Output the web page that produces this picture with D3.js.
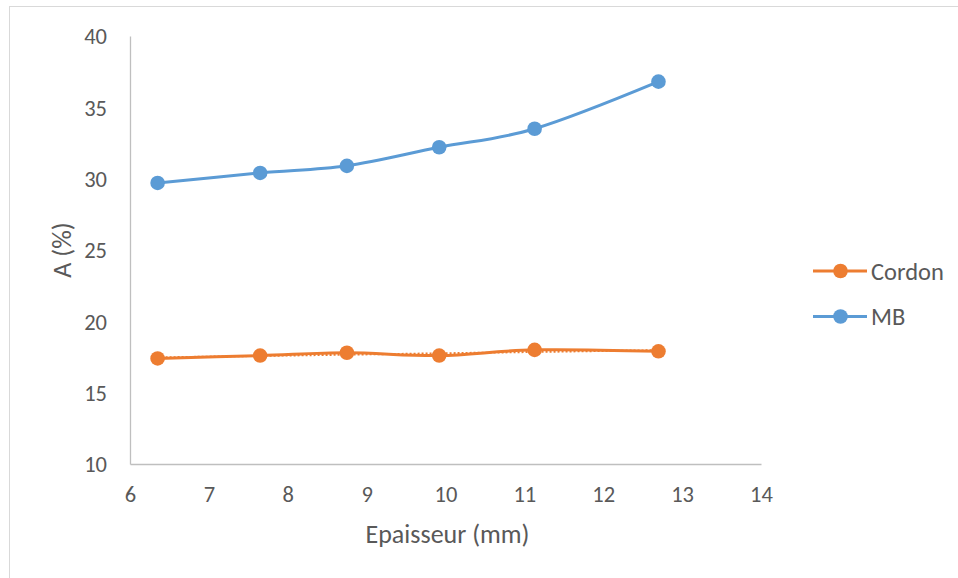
<!DOCTYPE html>
<html>
<head>
<meta charset="utf-8">
<script src="https://cdn.jsdelivr.net/npm/d3@7"></script>
<style>
  body { margin: 0; background: #fff; }
  text { font-family: Carlito, Calibri, "Noto Sans", sans-serif; fill: #595959; }
</style>
</head>
<body>
<svg id="chart"></svg>
<script>
const width = 958;
const height = 578;

// epaisseur des plaques (mm)
const thickness = [6.35, 7.65, 8.75, 9.92, 11.13, 12.7];
const cordonValues = [17.4, 17.6, 17.8, 17.6, 18.0, 17.9];
const mbValues = [29.7, 30.4, 30.9, 32.2, 33.5, 36.8];
const seriesNames = ['Cordon', 'MB'];
const seriesColors = ['#ED7D31', '#5B9BD5'];
const xTicks = [6, 7, 8, 9, 10, 11, 12, 13, 14];
const yTicks = [10, 15, 20, 25, 30, 35, 40];

const svg = d3.select('#chart')
  .attr('width', width)
  .attr('height', height);

// cadre
svg.append('rect')
  .attr('x', 9.5).attr('y', 6.5)
  .attr('width', width).attr('height', height)
  .attr('fill', 'none')
  .attr('stroke', '#D9D9D9')
  .attr('stroke-width', 1);

const x = d3.scaleLinear().domain([6, 14]).range([130, 761]);
const y = d3.scaleLinear().domain([10, 40]).range([464, 36]);

const xAxis = svg.append('g')
  .attr('transform', `translate(0, ${y(10)})`)
  .call(d3.axisBottom(x).tickValues(xTicks).tickSize(0));
const yAxis = svg.append('g')
  .attr('transform', `translate(${x(6)}, 0)`)
  .call(d3.axisLeft(y).tickValues(yTicks).tickSize(0).tickPadding(23));

[xAxis, yAxis].forEach(a => {
  a.select('.domain').attr('stroke', '#BFBFBF').attr('stroke-width', 1.3);
  a.selectAll('text').style('font-size', '22.5px').attr('fill', '#595959');
});
xAxis.selectAll('text').attr('dy', '0.35em').attr('y', 30);
yAxis.selectAll('text').attr('dy', '0.35em');

svg.append('text')
  .attr('x', x(10) + 2).attr('y', 543)
  .attr('text-anchor', 'middle')
  .style('font-size', '26px')
  .text('Epaisseur (mm)');

svg.append('text')
  .attr('transform', `translate(71, ${y(25)}) rotate(-90)`)
  .attr('text-anchor', 'middle')
  .style('font-size', '26px')
  .text('A (%)');

const series = [cordonValues, mbValues].map((vals, i) => ({
  name: seriesNames[i],
  color: seriesColors[i],
  points: thickness.map((t, j) => ({ x: t, y: vals[j] }))
}));

const line = d3.line()
  .x(d => x(d.x))
  .y(d => y(d.y))
  .curve(d3.curveCatmullRom.alpha(0));

// courbe de tendance linéaire (Cordon)
const cordon = series[0].points;
const mx = d3.mean(cordon, d => d.x);
const my = d3.mean(cordon, d => d.y);
const slope = d3.sum(cordon, d => (d.x - mx) * (d.y - my)) / d3.sum(cordon, d => (d.x - mx) ** 2);
const trend = [thickness[0], thickness[thickness.length - 1]].map(t => ({ x: t, y: my + slope * (t - mx) }));

series.forEach(s => {
  svg.append('path')
    .datum(s.points)
    .attr('fill', 'none')
    .attr('stroke', s.color)
    .attr('stroke-width', 3)
    .attr('stroke-linejoin', 'round')
    .attr('d', line);
});

svg.append('path')
  .datum(trend)
  .attr('fill', 'none')
  .attr('stroke', seriesColors[0])
  .attr('stroke-width', 2)
  .attr('stroke-dasharray', '2,2')
  .attr('d', d3.line().x(d => x(d.x)).y(d => y(d.y)));

series.forEach(s => {
  svg.append('g').selectAll('circle')
    .data(s.points).enter()
    .append('circle')
    .attr('cx', d => x(d.x))
    .attr('cy', d => y(d.y))
    .attr('r', 7.3)
    .attr('fill', s.color);
});

// légende
const legend = svg.append('g').selectAll('g')
  .data(series).enter()
  .append('g')
  .attr('transform', (d, i) => `translate(0, ${271 + i * 45.5})`);
legend.append('line')
  .attr('x1', 813).attr('x2', 867)
  .attr('stroke', d => d.color)
  .attr('stroke-width', 3);
legend.append('circle')
  .attr('cx', 840.5).attr('r', 7.3)
  .attr('fill', d => d.color);
legend.append('text')
  .attr('x', 871).attr('dy', '0.35em')
  .style('font-size', '24.5px')
  .text(d => d.name);
</script>
</body>
</html>
